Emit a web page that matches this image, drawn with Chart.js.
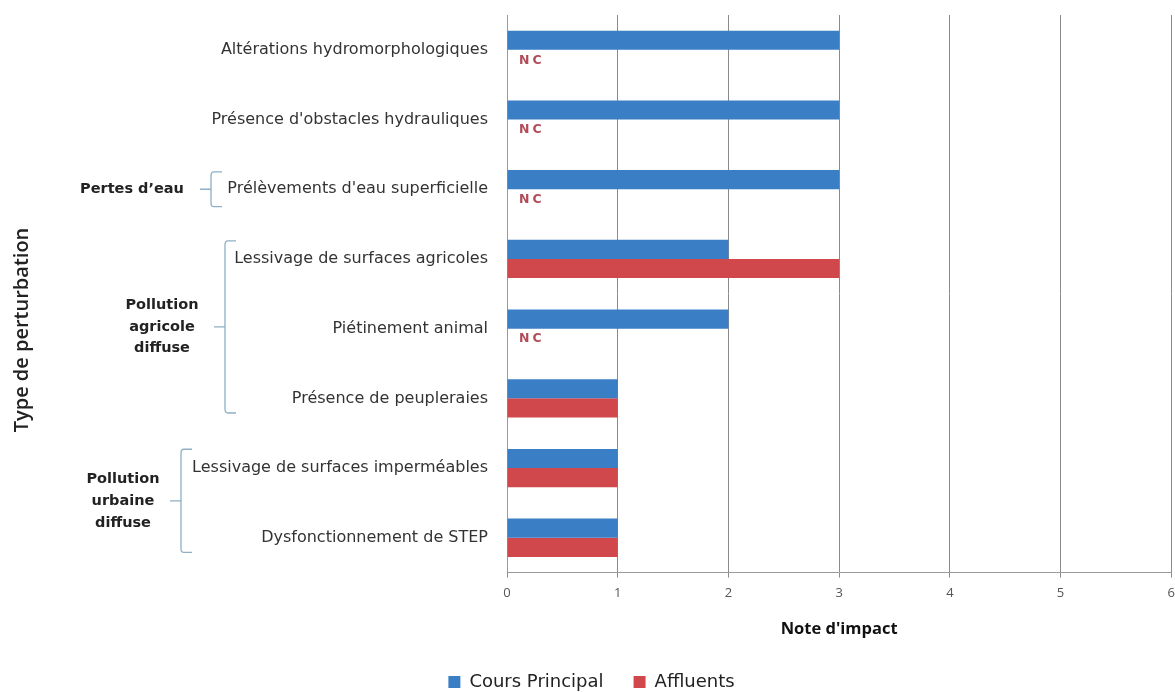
<!DOCTYPE html>
<html>
<head>
<meta charset="utf-8">
<script src="https://cdn.jsdelivr.net/npm/chart.js@4/dist/chart.umd.min.js"></script>
<style>
  html, body { margin: 0; padding: 0; background: #fff; overflow: hidden; }
  .wrap { width: 1183px; height: 692px; }
</style>
</head>
<body>
<div class="wrap"><canvas id="chart"></canvas></div>
<script>
// Data ------------------------
const categories = [
  'Altérations hydromorphologiques',
  "Présence d'obstacles hydrauliques",
  "Prélèvements d'eau superficielle",
  'Lessivage de surfaces agricoles',
  'Piétinement animal',
  'Présence de peupleraies',
  'Lessivage de surfaces imperméables',
  'Dysfonctionnement de STEP',
];
const coursPrincipal = [3, 3, 3, 2, 2, 1, 1, 1];
const affluents = [null, null, null, 3, null, 1, 1, 1];
const xTicks = [0, 1, 2, 3, 4, 5, 6];

// groups: label lines, first and last category index
const groups = [
  { lines: ["Pertes d’eau"], from: 2, to: 2 },
  { lines: ['Pollution', 'agricole', 'diffuse'], from: 3, to: 5 },
  { lines: ['Pollution', 'urbaine', 'diffuse'], from: 6, to: 7 },
];

const BLUE = '#3a7ec6';
const RED = '#d0484b';
const BRACE = '#8db0c6';
const FONT = "'DejaVu Sans', sans-serif";
const FONT2 = "'Open Sans', sans-serif";

// Plugins ----------------------
const ncPlugin = {
  id: 'nc',
  afterDatasetsDraw(chart) {
    const { ctx } = chart;
    const x0 = chart.scales.x.getPixelForValue(0);
    const meta = chart.getDatasetMeta(0);
    ctx.save();
    ctx.font = `bold 12.5px ${FONT}`;
    ctx.letterSpacing = '3px';
    ctx.fillStyle = '#b24b57';
    ctx.textBaseline = 'middle';
    affluents.forEach((v, i) => {
      if (v !== null) return;
      const bar = meta.data[i];
      ctx.fillText('NC', x0 + 12, bar.y + bar.height + 1);
    });
    ctx.restore();
  },
};

const groupPlugin = {
  id: 'groups',
  afterDraw(chart) {
    const { ctx } = chart;
    const y = chart.scales.y;
    const step = y.getPixelForValue(1) - y.getPixelForValue(0);
    const conf = [
      { bx: 211, top: -0.25, bottom: 0.25, textX: 132, lh: 21 },
      { bx: 225, top: -0.26, bottom: 0.21, textX: 162, lh: 21.5 },
      { bx: 181, top: -0.27, bottom: 0.21, textX: 123, lh: 22 },
    ];
    ctx.save();
    groups.forEach((g, k) => {
      const c = conf[k];
      const yTop = y.getPixelForValue(g.from) + c.top * step;
      const yBot = y.getPixelForValue(g.to) + c.bottom * step;
      const yMid = (yTop + yBot) / 2;
      // brace
      ctx.strokeStyle = BRACE;
      ctx.lineWidth = 1.3;
      ctx.beginPath();
      ctx.moveTo(c.bx + 11, yTop);
      ctx.lineTo(c.bx + 3, yTop);
      ctx.quadraticCurveTo(c.bx, yTop, c.bx, yTop + 4);
      ctx.lineTo(c.bx, yBot - 4);
      ctx.quadraticCurveTo(c.bx, yBot, c.bx + 3, yBot);
      ctx.lineTo(c.bx + 11, yBot);
      ctx.moveTo(c.bx, yMid);
      ctx.lineTo(c.bx - 11, yMid);
      ctx.stroke();
      // text
      ctx.fillStyle = '#222';
      ctx.font = `bold 14.5px ${FONT}`;
      ctx.textAlign = 'center';
      ctx.textBaseline = 'middle';
      const start = yMid - ((g.lines.length - 1) * c.lh) / 2;
      g.lines.forEach((t, j) => ctx.fillText(t, c.textX, start + j * c.lh));
    });
    // y axis title
    ctx.translate(22, 330);
    ctx.rotate(-Math.PI / 2);
    ctx.fillStyle = '#222';
    ctx.font = `600 20px ${FONT2}`;
    ctx.fillText('Type de perturbation', 0, 0);
    ctx.restore();
  },
};

// shorter legend box, wide spacing between items
const legendFit = {
  id: 'legendFit',
  beforeInit(chart) {
    const fit = chart.legend.fit;
    chart.legend.fit = function () {
      fit.bind(chart.legend)();
      this.height = 49;
    };
  },
};

// Chart ----------------------
new Chart(document.getElementById('chart'), {
  type: 'bar',
  data: {
    labels: categories,
    datasets: [
      { label: 'Cours Principal', data: coursPrincipal, backgroundColor: BLUE },
      { label: 'Affluents', data: affluents, backgroundColor: RED },
    ],
  },
  options: {
    indexAxis: 'y',
    responsive: true,
    maintainAspectRatio: false,
    animation: false,
    datasets: { bar: { categoryPercentage: 0.55, barPercentage: 1 } },
    layout: { padding: { top: 15, left: 0, right: 0, bottom: 0 } },
    scales: {
      x: {
        min: 0,
        max: 6,
        afterBuildTicks(scale) {
          scale.ticks = xTicks.map(v => ({ value: v }));
        },
        grid: { color: '#8a8a8a', lineWidth: 1, tickLength: 5, drawTicks: true },
        border: { color: '#9a9a9a' },
        ticks: { color: '#555', font: { family: FONT2, size: 13 }, padding: 8 },
        title: {
          display: true,
          text: "Note d'impact",
          color: '#111',
          font: { family: FONT2, size: 16.5, weight: 'bold' },
          padding: { top: 10, bottom: 4 },
        },
      },
      y: {
        afterFit(scale) {
          scale.width = 507;
          scale.paddingTop = 0;
          scale.paddingBottom = 0;
        },
        grid: { display: false, drawTicks: true, tickLength: 5 },
        border: { color: '#9a9a9a' },
        ticks: { color: '#333', font: { family: FONT, size: 16 }, padding: 14 },
      },
    },
    plugins: {
      legend: {
        position: 'bottom',
        labels: {
          boxWidth: 12,
          boxHeight: 12,
          color: '#222',
          font: { family: FONT, size: 18 },
          padding: 30,
        },
      },
      tooltip: { enabled: false },
    },
  },
  plugins: [ncPlugin, groupPlugin, legendFit],
});
</script>
</body>
</html>
